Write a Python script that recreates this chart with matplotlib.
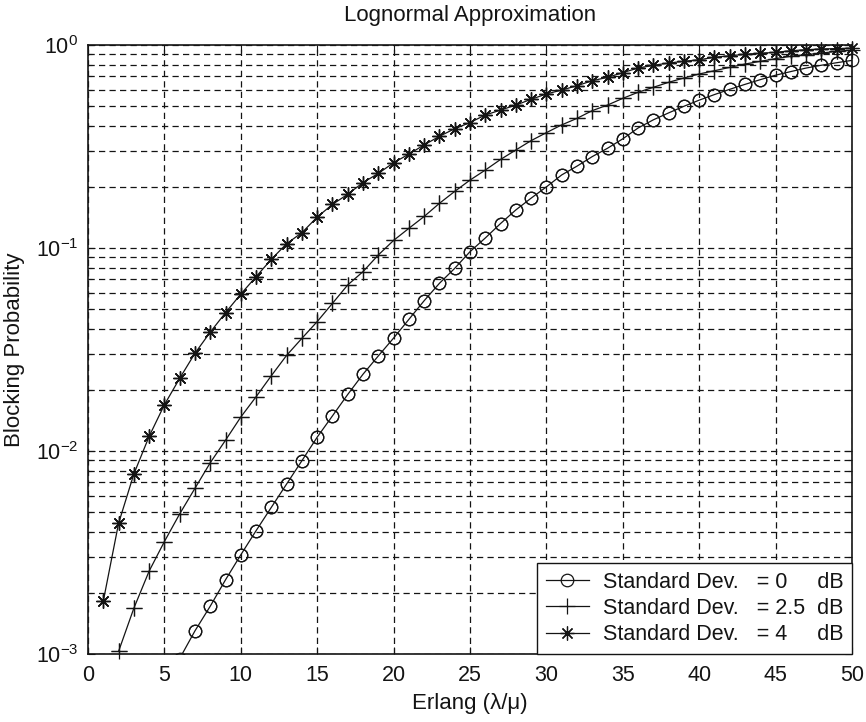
import matplotlib
matplotlib.use("Agg")
import matplotlib.pyplot as plt
from matplotlib.ticker import LogLocator, NullFormatter

plt.rcParams['font.family'] = ['Liberation Sans', 'DejaVu Sans']
plt.rcParams['mathtext.fontset'] = 'custom'
plt.rcParams['mathtext.rm'] = 'Liberation Sans'

# Offered traffic (Erlang) for each curve
erlang_0db = list(range(6, 51))
erlang_25db = list(range(2, 51))
erlang_4db = list(range(1, 51))

# Blocking probability, sigma = 0 dB
block_0db = [9.5e-4, 1.30e-3, 1.72e-3, 2.32e-3, 3.08e-3, 4.05e-3, 5.28e-3, 6.88e-3,
             8.96e-3, 0.0117, 0.0149, 0.0190, 0.0239, 0.0294, 0.0360, 0.0445,
             0.0550, 0.0670, 0.0794, 0.0959, 0.112, 0.132, 0.154, 0.176, 0.200,
             0.229, 0.253, 0.282, 0.310, 0.345, 0.390, 0.428, 0.463, 0.499, 0.535,
             0.570, 0.605, 0.640, 0.675, 0.710, 0.740, 0.770, 0.795, 0.818, 0.840]

# Blocking probability, sigma = 2.5 dB
block_25db = [1.03e-3, 1.68e-3, 2.56e-3, 3.58e-3, 4.9e-3, 6.55e-3, 8.75e-3, 0.0113,
              0.0147, 0.0185, 0.0235, 0.0296, 0.0359, 0.0434, 0.0534, 0.0658,
              0.0765, 0.0924, 0.109, 0.125, 0.143, 0.166, 0.190, 0.216, 0.242,
              0.273, 0.304, 0.338, 0.370, 0.404, 0.435, 0.475, 0.506, 0.546, 0.585,
              0.619, 0.655, 0.688, 0.720, 0.747, 0.776, 0.806, 0.831, 0.857, 0.880,
              0.896, 0.913, 0.930, 0.942]

# Blocking probability, sigma = 4 dB
block_4db = [1.82e-3, 4.4e-3, 7.7e-3, 0.0118, 0.0169, 0.0228, 0.0303, 0.0385, 0.048,
             0.0593, 0.0722, 0.088, 0.105, 0.119, 0.142, 0.164, 0.184, 0.210,
             0.233, 0.263, 0.290, 0.322, 0.355, 0.387, 0.415, 0.452, 0.478, 0.506,
             0.540, 0.574, 0.600, 0.630, 0.667, 0.693, 0.731, 0.770, 0.794, 0.815,
             0.831, 0.846, 0.870, 0.885, 0.900, 0.910, 0.920, 0.937, 0.948, 0.956,
             0.960, 0.966]

labels = ['Standard Dev.   = 0     dB', 'Standard Dev.   = 2.5  dB',
          'Standard Dev.   = 4     dB']
x_ticks = list(range(0, 51, 5))
y_min, y_max = 1e-3, 1

ink = '#141414'
fig = plt.figure(figsize=(8.66, 7.22), dpi=100)
ax = fig.add_axes([88 / 866, 1 - 654 / 722, (852 - 88) / 866, (654 - 45) / 722])

series = [
    (erlang_0db, block_0db, dict(marker='o', ms=9, mfc='none')),
    (erlang_25db, block_25db, dict(marker='+', ms=12)),
    (erlang_4db, block_4db, dict(marker=(8, 2, 0), ms=10)),
]
for (xs, ys, mk), lab in zip(series, labels):
    ax.semilogy(xs, ys, color=ink, lw=0.9, mec=ink, mew=0.9, label=lab, **mk)
    # markers inside the plotting range are drawn in full, even on the frame
    inside = [(x, y) for x, y in zip(xs, ys) if y_min <= y <= y_max]
    ax.plot([p[0] for p in inside], [p[1] for p in inside], ls='none',
            mec=ink, mew=0.9, clip_on=False, zorder=3, **mk)

ax.set_xlim(0, 50)
ax.set_ylim(y_min, y_max)
ax.set_xticks(x_ticks)
ax.yaxis.set_major_locator(LogLocator(base=10, numticks=10))
ax.yaxis.set_minor_locator(LogLocator(base=10, subs=range(2, 10), numticks=20))
ax.yaxis.set_minor_formatter(NullFormatter())

dash = (0, (5, 3.4))
ax.grid(True, which='both', axis='y', color=ink, ls=dash, lw=0.9)
ax.grid(True, which='major', axis='x', color=ink, ls=dash, lw=0.9)

ax.tick_params(which='both', direction='in', top=True, right=True, colors=ink,
               labelsize=15.5)
ax.tick_params(which='major', length=5, width=0.8)
ax.tick_params(which='minor', length=3, width=0.8)
ax.tick_params(axis='x', pad=8)
ax.tick_params(axis='y', pad=7)
for s in ax.spines.values():
    s.set_linewidth(1.2)
    s.set_color(ink)

ax.set_title('Lognormal Approximation', fontsize=16, color=ink, pad=17)
ax.set_xlabel('Erlang (λ/μ)', fontsize=16, color=ink, labelpad=5)
ax.set_ylabel('Blocking Probability', fontsize=16, color=ink, labelpad=8)

leg = ax.legend(loc='lower right', fontsize=15.5, frameon=True, fancybox=False,
                borderaxespad=0, borderpad=0.4, handlelength=2.0,
                handletextpad=0.65, labelspacing=0.25)
leg.get_frame().set_edgecolor(ink)
leg.get_frame().set_linewidth(1.0)
leg.get_frame().set_alpha(1)
leg.set_zorder(5)
for t in leg.get_texts():
    t.set_color(ink)

fig.savefig('out.png', dpi=100)
